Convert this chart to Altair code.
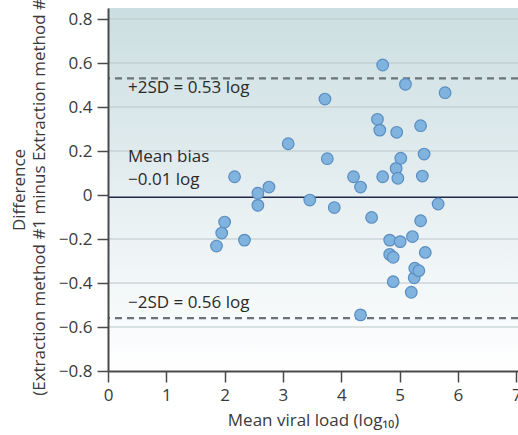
import altair as alt
import pandas as pd

# Mean of the two extraction methods (log10 copies) and their difference
mean_load = [1.86, 1.95, 2.00, 2.34, 2.17, 2.57, 2.57, 2.76, 3.09, 3.46,
             3.72, 3.76, 3.88, 4.21, 4.33, 4.33, 4.52, 4.62, 4.66, 4.71,
             4.71, 4.83, 4.83, 4.89, 4.89, 4.94, 4.95, 4.97, 5.01, 5.02,
             5.10, 5.20, 5.22, 5.25, 5.26, 5.33, 5.36, 5.36, 5.39, 5.42,
             5.44, 5.66, 5.78]
difference = [-0.232, -0.173, -0.123, -0.205, 0.083, 0.008, -0.047, 0.036, 0.233, -0.023,
              0.436, 0.165, -0.057, 0.083, 0.036, -0.545, -0.102, 0.344, 0.295, 0.591,
              0.083, -0.205, -0.270, -0.283, -0.394, 0.121, 0.285, 0.076, -0.212, 0.167,
              0.503, -0.442, -0.189, -0.376, -0.333, -0.344, -0.117, 0.315, 0.086, 0.186,
              -0.261, -0.041, 0.465]

mean_bias = -0.01
upper_limit = 0.53
lower_limit = -0.56

upper_label = "+2SD = 0.53 log"
lower_label = "\u22122SD = 0.56 log"
bias_label_1 = "Mean bias"
bias_label_2 = "\u22120.01 log"

x_ticks = [0, 1, 2, 3, 4, 5, 6, 7]
y_ticks = [-0.8, -0.6, -0.4, -0.2, 0, 0.2, 0.4, 0.6, 0.8]
grid_values = [0.8, 0.6, 0.4, 0.2, -0.2, -0.4, -0.6]

x_title = "Mean viral load (log\u2081\u2080)"
y_title = ["Difference", "(Extraction method #1 minus Extraction method #2)"]

W, H = 410, 363
FONT = "Open Sans"
INK = "#3a3a3a"
AXIS_GREY = "#4a4a4a"

x_scale = alt.Scale(domain=[0, 7.03], nice=False, zero=False)
y_scale = alt.Scale(domain=[-0.8, 0.85], nice=False, zero=False)

# One y-axis definition shared by every layer so the merged axis keeps it
y_axis = alt.Axis(
    values=y_ticks,
    labelExpr="datum.value == 0 ? '0' : format(datum.value, '.1f')",
    title=y_title, titleAngle=270, titleX=-84, titleY=H / 2,
    titleAlign="center", titleBaseline="alphabetic", titleLineHeight=20,
    tickSize=11, tickWidth=1.5, tickColor=AXIS_GREY,
    domainWidth=2, domainColor=AXIS_GREY,
    labelFontSize=17, labelPadding=5, labelColor=INK,
    titleFontSize=17, titleColor=INK, titleFontWeight="normal",
    grid=False, zindex=1,
)

x_axis = alt.Axis(
    values=x_ticks, format="d", title=x_title, labelFlush=False,
    tickSize=11, tickWidth=1.5, tickColor=AXIS_GREY,
    domainWidth=2, domainColor=AXIS_GREY,
    labelFontSize=17, labelPadding=5, labelColor=INK,
    titleFontSize=17, titlePadding=9, titleColor=INK, titleFontWeight="normal",
    grid=False, zindex=1,
)

points_df = pd.DataFrame({"mean": mean_load, "diff": difference})
grid_df = pd.DataFrame({"g": grid_values})
limits_df = pd.DataFrame({"limit": [upper_limit, lower_limit]})
bias_df = pd.DataFrame({"bias": [mean_bias]})

# Soft teal-to-white wash behind the plot
background = alt.Chart(alt.Data(values=[{}])).mark_rect(
    color=alt.Gradient(
        gradient="linear",
        stops=[
            alt.GradientStop(offset=0, color="#cbdee1"),
            alt.GradientStop(offset=0.5, color="#e5eef0"),
            alt.GradientStop(offset=0.85, color="#f7fafb"),
            alt.GradientStop(offset=1, color="#ffffff"),
        ],
        x1=0, x2=0, y1=0, y2=1,
    )
).encode(x=alt.value(0), x2=alt.value(W), y=alt.value(0), y2=alt.value(H))

grid = alt.Chart(grid_df).mark_rule(color="#b9c7ca", strokeWidth=1).encode(
    y=alt.Y("g:Q", scale=y_scale, axis=y_axis)
)

limits = alt.Chart(limits_df).mark_rule(
    color="#6c7378", strokeWidth=2.2, strokeDash=[7, 5]
).encode(y=alt.Y("limit:Q", scale=y_scale, axis=y_axis))

bias = alt.Chart(bias_df).mark_rule(color="#1e2a4a", strokeWidth=1.6).encode(
    y=alt.Y("bias:Q", scale=y_scale, axis=y_axis)
)

points = alt.Chart(points_df).mark_circle(
    size=135, color="#80b3dd", stroke="#5a8ec2", strokeWidth=1.2, opacity=1
).encode(
    x=alt.X("mean:Q", scale=x_scale, axis=x_axis),
    y=alt.Y("diff:Q", scale=y_scale, axis=y_axis),
)


def note(value, text, dy):
    df = pd.DataFrame({"v": [value], "t": [text]})
    return alt.Chart(df).mark_text(
        align="left", baseline="middle", fontSize=17, font=FONT, color="#2a2a2a", dy=dy
    ).encode(
        x=alt.value(20),
        y=alt.Y("v:Q", scale=y_scale, axis=y_axis),
        text="t:N",
    )


chart = alt.layer(
    background,
    grid,
    limits,
    bias,
    points,
    note(upper_limit, upper_label, 10),
    note(mean_bias, bias_label_1, -40),
    note(mean_bias, bias_label_2, -17),
    note(lower_limit, lower_label, -15),
).properties(
    width=W,
    height=H,
    autosize=alt.AutoSizeParams(type="none"),
    padding={"left": 108, "top": 8, "right": 0, "bottom": 64},
).configure(
    font=FONT,
).configure_view(
    stroke=None,
)

chart.save("out.html", embed_options={"renderer": "svg", "actions": False})
